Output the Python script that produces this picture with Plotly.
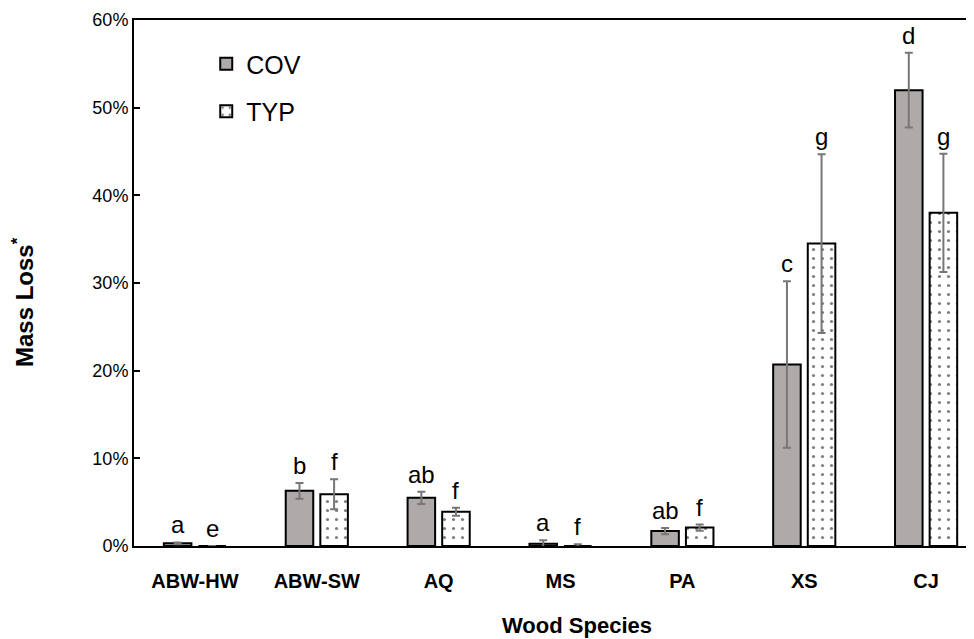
import plotly.graph_objects as go

categories = ["ABW-HW", "ABW-SW", "AQ", "MS", "PA", "XS", "CJ"]
cov = [0.003, 0.063, 0.055, 0.0026, 0.017, 0.207, 0.520]
cov_err = [0.001, 0.009, 0.007, 0.004, 0.0035, 0.095, 0.0425]
typ = [0.0, 0.059, 0.039, 0.0, 0.021, 0.345, 0.380]
typ_err = [0.0, 0.017, 0.0045, 0.002, 0.0035, 0.102, 0.0675]
cov_letters = ["a", "b", "ab", "a", "ab", "c", "d"]
typ_letters = ["e", "f", "f", "f", "f", "g", "g"]
y_ticks = [0, 0.1, 0.2, 0.3, 0.4, 0.5, 0.6]

FONT = "Liberation Sans, Arial, sans-serif"
BAR_W = 0.226
OFF_COV = -0.255
OFF_TYP = 0.029
ERR_COLOR = "#7a7676"

fig = go.Figure()
fig.add_trace(go.Bar(
    x=categories, y=cov, name="COV", width=BAR_W, offset=OFF_COV,
    marker=dict(color="#AEAAAA", line=dict(color="black", width=2)),
    error_y=dict(type="data", array=cov_err, color=ERR_COLOR, thickness=2, width=4),
    legendgroup="cov",
))
fig.add_trace(go.Bar(
    x=categories, y=typ, name="TYP", width=BAR_W, offset=OFF_TYP,
    marker=dict(color="white", line=dict(color="black", width=2),
                pattern=dict(shape=".", fgcolor="black", bgcolor="white", size=9, solidity=0.1)),
    error_y=dict(type="data", array=typ_err, color=ERR_COLOR, thickness=2, width=4),
    legendgroup="typ",
))

annotations = []
for i, c in enumerate(categories):
    annotations.append(dict(x=i + OFF_COV + BAR_W / 2, y=cov[i] + cov_err[i], xref="x", yref="y",
                            text=cov_letters[i], showarrow=False, yanchor="bottom", yshift=2,
                            font=dict(family=FONT, size=24, color="black")))
    annotations.append(dict(x=i + OFF_TYP + BAR_W / 2, y=typ[i] + typ_err[i], xref="x", yref="y",
                            text=typ_letters[i], showarrow=False, yanchor="bottom", yshift=2,
                            font=dict(family=FONT, size=24, color="black")))

annotations.append(dict(x=-0.132, y=0.464, xref="paper", yref="paper", text="<b>Mass Loss<sup>*</sup></b>",
                        textangle=-90, showarrow=False, xanchor="center", yanchor="middle",
                        font=dict(family=FONT, size=24, color="black")))
annotations.append(dict(x=0.4357, y=-0.151, xref="paper", yref="paper", text="<b>Wood Species</b>",
                        showarrow=False, xanchor="left", yanchor="middle",
                        font=dict(family=FONT, size=22, color="black")))

fig.update_layout(
    width=974, height=639, autosize=False,
    margin=dict(l=126, r=8, t=12, b=101),
    plot_bgcolor="white", paper_bgcolor="white",
    font=dict(family=FONT, color="black"),
    barmode="group",
    showlegend=True,
    legend=dict(x=0.086, y=0.96, xanchor="left", yanchor="top", bgcolor="rgba(0,0,0,0)",
                font=dict(family=FONT, size=25, color="black"), tracegroupgap=12,
                itemwidth=30),
    annotations=annotations,
    xaxis=dict(
        type="category", range=[-0.5, 6.393], automargin=False,
        showline=True, linecolor="black", linewidth=2, mirror=True,
        ticks="", tickfont=dict(family=FONT, size=20, color="black"),
        tickprefix="<b>", ticksuffix="</b>", ticklabelstandoff=16,
        showgrid=False,
    ),
    yaxis=dict(
        range=[0, 0.6], tickvals=y_ticks, tickformat=".0%", automargin=False,
        showline=True, linecolor="black", linewidth=2,
        ticks="inside", ticklen=6, tickcolor="black", tickwidth=2,
        tickfont=dict(family=FONT, size=18, color="black"),
        showgrid=False, zeroline=False,
    ),
)

fig.write_html("out.html")
